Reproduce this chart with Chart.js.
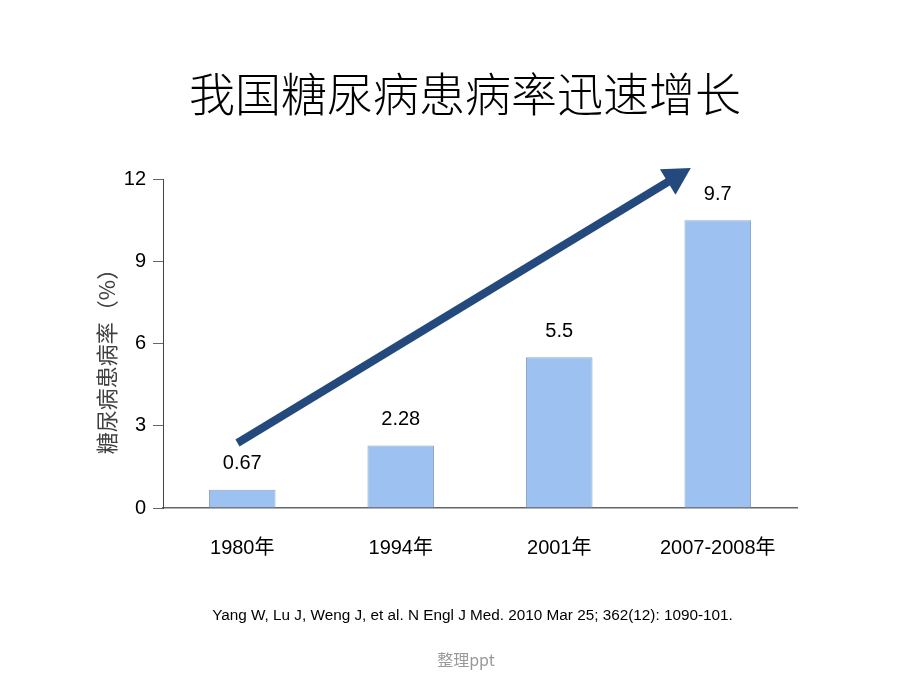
<!DOCTYPE html>
<html>
<head>
<meta charset="utf-8">
<script src="https://cdn.jsdelivr.net/npm/chart.js@4"></script>
<style>
  body { margin: 0; background: #fff; }
  #wrap { position: relative; width: 920px; height: 690px; }
  #title { position: absolute; left: 0; top: 58px; width: 930px; text-align: center;
    font-family: "Noto Sans CJK SC", sans-serif; font-weight: 300; font-size: 46px; color: #000; }
  #cite { position: absolute; left: 0; top: 606px; width: 945px; text-align: center;
    font-family: "Liberation Sans", Arial, sans-serif; font-size: 15.3px; color: #000; }
  #note { position: absolute; left: 0; top: 647px; width: 932px; text-align: center;
    font-family: "Noto Sans CJK SC", "Liberation Sans", sans-serif; font-size: 16px; color: #999; }
  canvas { position: absolute; left: 0; top: 0; }
</style>
</head>
<body>
<div id="wrap">
  <canvas id="rateChart" width="920" height="690"></canvas>
  <div id="title">我国糖尿病患病率迅速增长</div>
  <div id="cite">Yang W, Lu J, Weng J, et al. N Engl J Med. 2010 Mar 25; 362(12): 1090-101.</div>
  <div id="note">整理ppt</div>
</div>
<script>
// data
const categories = ['1980年', '1994年', '2001年', '2007-2008年'];
const barHeights = [0.67, 2.28, 5.5, 10.5];   // as drawn
const valueLabels = ['0.67', '2.28', '5.5', '9.7'];  // as printed above the bars
const yTicks = [0, 3, 6, 9, 12];

const FONT = '"Liberation Sans", Arial, "Noto Sans CJK SC", sans-serif';

// trend arrow, in data units (category index, percent)
const arrowFrom = { x: -0.03, y: 2.37 };
const arrowTo = { x: 2.83, y: 12.4 };

const extras = {
  id: 'extras',
  afterDatasetsDraw(chart) {
    const ctx = chart.ctx;
    const xs = chart.scales.x, ys = chart.scales.y;

    // value labels
    ctx.save();
    ctx.font = '20px ' + FONT;
    ctx.fillStyle = '#000';
    ctx.textAlign = 'center';
    ctx.textBaseline = 'middle';
    chart.getDatasetMeta(0).data.forEach((bar, i) => {
      ctx.fillText(valueLabels[i], bar.x, bar.y - 26);
    });
    ctx.restore();

    // arrow
    const x1 = xs.getPixelForValue(arrowFrom.x), y1 = ys.getPixelForValue(arrowFrom.y);
    const x2 = xs.getPixelForValue(arrowTo.x), y2 = ys.getPixelForValue(arrowTo.y);
    const ang = Math.atan2(y2 - y1, x2 - x1);
    const headLen = 27, headW = 15;
    const bx = x2 - headLen * Math.cos(ang), by = y2 - headLen * Math.sin(ang);
    ctx.save();
    ctx.strokeStyle = '#24497C';
    ctx.fillStyle = '#24497C';
    ctx.lineWidth = 8;
    ctx.beginPath();
    ctx.moveTo(x1, y1);
    ctx.lineTo(bx + 2 * Math.cos(ang), by + 2 * Math.sin(ang));
    ctx.stroke();
    ctx.beginPath();
    ctx.moveTo(x2, y2);
    ctx.lineTo(bx + headW * Math.sin(ang), by - headW * Math.cos(ang));
    ctx.lineTo(bx - headW * Math.sin(ang), by + headW * Math.cos(ang));
    ctx.closePath();
    ctx.fill();
    ctx.restore();

    // y axis title
    ctx.save();
    ctx.translate(107, 356);
    ctx.rotate(-Math.PI / 2);
    ctx.font = '22px "Noto Sans CJK SC", sans-serif';
    ctx.fillStyle = '#404040';
    ctx.textAlign = 'center';
    ctx.textBaseline = 'middle';
    ctx.fillText('糖尿病患病率（%）', 0, 0);
    ctx.restore();
  }
};

new Chart(document.getElementById('rateChart').getContext('2d'), {
  type: 'bar',
  data: {
    labels: categories,
    datasets: [{
      data: barHeights,
      backgroundColor: '#9DC2F1',
      borderColor: '#8AA5C6',
      borderWidth: 1,
      barPercentage: 0.42,
      categoryPercentage: 1
    }]
  },
  options: {
    responsive: false,
    animation: false,
    layout: { padding: { left: 0, top: 179, right: 123, bottom: 0 } },
    plugins: { legend: { display: false }, tooltip: { enabled: false } },
    scales: {
      x: {
        afterFit: s => { s.height = 182; },
        grid: { drawOnChartArea: false, drawTicks: false },
        border: { display: true, color: '#666', width: 1.5 },
        ticks: { padding: 28, color: '#000', font: { family: FONT, size: 20 } }
      },
      y: {
        min: 0,
        max: 12,
        afterFit: s => { s.width = 163; },
        afterBuildTicks: s => { s.ticks = yTicks.map(v => ({ value: v })); },
        grid: { drawOnChartArea: false, drawTicks: true, tickLength: 10, color: '#666' },
        border: { display: true, color: '#444', width: 1 },
        ticks: { padding: 7, color: '#000', font: { family: FONT, size: 20 } }
      }
    }
  },
  plugins: [extras]
});
</script>
</body>
</html>
